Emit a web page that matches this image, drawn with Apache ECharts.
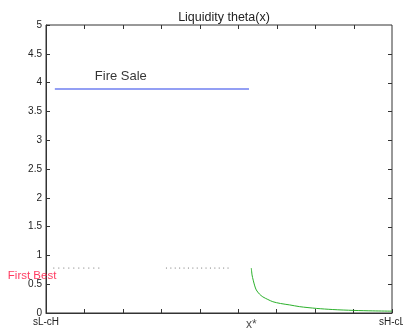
<!DOCTYPE html>
<html><head><meta charset="utf-8">
<script src="https://cdn.jsdelivr.net/npm/echarts@6/dist/echarts.min.js"></script>
<style>html,body{margin:0;padding:0;background:#fff}#c{width:403px;height:330px}</style>
</head><body><div id="c"></div>
<script>
var yTicks = [0, 0.5, 1, 1.5, 2, 2.5, 3, 3.5, 4, 4.5, 5];
var xTicks = [0, 1, 2, 3, 4, 5, 6, 7, 8, 9];
var xEndLabels = ['sL-cH', 'sH-cL'];
var xStar = 5.34;
var fireSale = [[0.23, 3.89], [5.28, 3.89]];
var firstBestA = [[0.19, 0.78], [1.41, 0.78]];
var firstBestB = [[3.12, 0.78], [4.8, 0.78]];
var theta = [[5.34,0.78],[5.36,0.66],[5.39,0.57],[5.43,0.47],[5.47,0.40],[5.55,0.33],[5.64,0.28],[5.77,0.235],[5.9,0.196],[6.1,0.165],[6.34,0.14],[6.6,0.11],[7.03,0.08],[7.46,0.06],[8.0,0.045],[8.5,0.037],[9.0,0.032]];
var fireSaleLabel = [[1.27, 4.1]];
var firstBestLabel = [[0.27, 0.64]];

var xMin = xTicks[0], xMax = xTicks[xTicks.length - 1];
var yMin = yTicks[0], yMax = yTicks[yTicks.length - 1];

var chart = echarts.init(document.getElementById('c'));
var axisCol = '#333';
var font = 'Arial, Liberation Sans, sans-serif';
chart.setOption({
  animation: false,
  title: { text: 'Liquidity theta(x)', left: 219, textAlign: 'center', top: 6,
    textStyle: { fontSize: 12.5, fontWeight: 'normal', color: '#222', fontFamily: font } },
  grid: { left: 46, right: 11, top: 25, bottom: 17, outerBoundsMode: 'none', containLabel: false,
    show: true, borderColor: axisCol, borderWidth: 1, backgroundColor: 'transparent' },
  xAxis: {
    type: 'value', min: xMin, max: xMax, interval: 1, position: 'bottom',
    axisLine: { show: true, onZero: false, lineStyle: { color: axisCol, width: 1 } },
    axisTick: { inside: true, length: 4, lineStyle: { color: axisCol } },
    splitLine: { show: false },
    axisLabel: { margin: 4, fontSize: 10, color: '#222', fontFamily: font,
      showMinLabel: true, showMaxLabel: true,
      formatter: function (v) { return v === xMin ? xEndLabels[0] : (v === xMax ? xEndLabels[1] : ''); } }
  },
  yAxis: {
    type: 'value', min: yMin, max: yMax, interval: 0.5, position: 'left',
    axisLine: { show: true, onZero: false, lineStyle: { color: axisCol, width: 1 } },
    axisTick: { show: true, inside: true, length: 4, lineStyle: { color: axisCol } },
    splitLine: { show: false },
    axisLabel: { margin: 4, fontSize: 10, color: '#222', fontFamily: font,
      formatter: function (v) { return String(v); } }
  },
  series: [
    { type: 'line', data: fireSale, symbol: 'none', lineStyle: { color: '#6f7ff0', width: 1.5 } },
    { type: 'line', data: firstBestA, symbol: 'none', lineStyle: { color: '#777', width: 1, type: [1, 4] } },
    { type: 'line', data: firstBestB, symbol: 'none', lineStyle: { color: '#777', width: 1, type: [1, 3.4] } },
    { type: 'line', data: theta, symbol: 'none', smooth: 0.3, lineStyle: { color: '#2bb02b', width: 1 } },
    { type: 'scatter', data: fireSaleLabel, symbolSize: 0, silent: true,
      label: { show: true, position: 'right', distance: 0, formatter: 'Fire Sale',
        fontSize: 13, color: '#000', fontFamily: font } },
    { type: 'scatter', data: firstBestLabel, symbolSize: 0, silent: true,
      label: { show: true, position: 'left', distance: 0, formatter: 'First Best',
        fontSize: 11.5, color: '#ff0a3a', fontFamily: font } },
    { type: 'scatter', data: [[xStar, 0]], symbolSize: 0, silent: true,
      label: { show: true, position: 'bottom', distance: 6, formatter: 'x*',
        fontSize: 12, color: '#222', fontFamily: font } }
  ]
});

// mirrored inside ticks on the top and right edges of the box, placed by the chart's own scales
var g = [];
xTicks.slice(1, -1).forEach(function (x) {
  var p = chart.convertToPixel({ gridIndex: 0 }, [x, yMax]);
  var px = Math.round(p[0]) + 0.5, py = Math.round(p[1]);
  g.push({ type: 'line', silent: true, z: 100,
    shape: { x1: px, y1: py, x2: px, y2: py + 4 },
    style: { stroke: axisCol, lineWidth: 1 } });
});
yTicks.slice(1, -1).forEach(function (y) {
  var p = chart.convertToPixel({ gridIndex: 0 }, [xMax, y]);
  var px = Math.round(p[0]), py = Math.round(p[1]) + 0.5;
  g.push({ type: 'line', silent: true, z: 100,
    shape: { x1: px, y1: py, x2: px - 4, y2: py },
    style: { stroke: axisCol, lineWidth: 1 } });
});
chart.setOption({ graphic: g });
</script></body></html>
